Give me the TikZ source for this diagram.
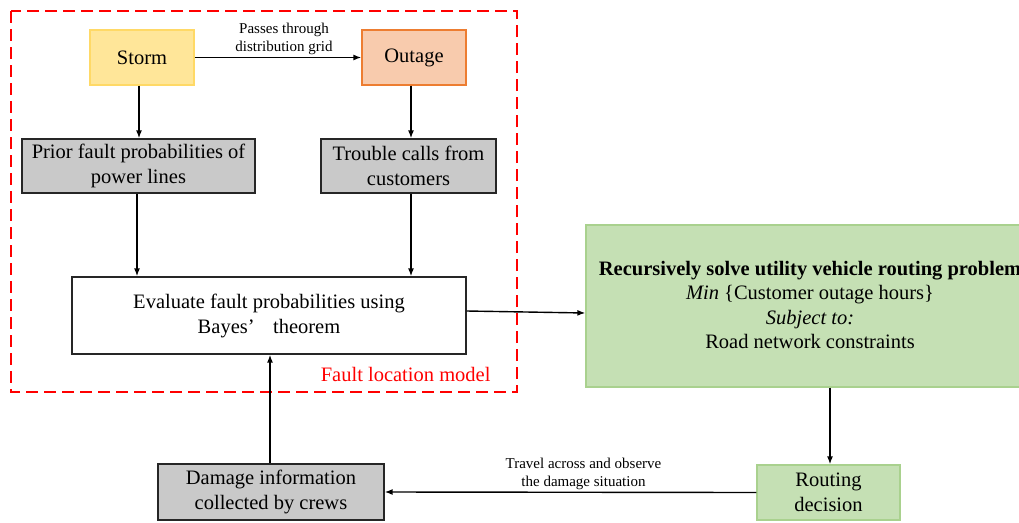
\documentclass[tikz,border=0pt]{standalone}
\usepackage{fontspec}
\setmainfont{LiberationSerif}[Extension=.ttf, UprightFont=*-Regular, BoldFont=*-Bold, ItalicFont=*-Italic, BoldItalicFont=*-BoldItalic]
\usetikzlibrary{arrows.meta}
\definecolor{stormfill}{HTML}{FFE699}
\definecolor{stormdraw}{HTML}{FFD966}
\definecolor{outfill}{HTML}{F8CBAD}
\definecolor{outdraw}{HTML}{ED7D31}
\definecolor{grayfill}{HTML}{C9C9C9}
\definecolor{grayline}{HTML}{262626}
\definecolor{greenfill}{HTML}{C5E0B4}
\definecolor{greendraw}{HTML}{A9D18E}
\definecolor{framered}{HTML}{FF0000}
\begin{document}
\begin{tikzpicture}[x=1pt,y=-1pt,
  box/.style={draw, line width=1.3pt, inner sep=0pt, align=center, font=\fontsize{20.5}{25}\selectfont},
  graybox/.style={box, fill=grayfill, draw=grayline},
  conn/.style={line width=1.4pt, -{Latex[length=8pt,width=6pt]}},
  small/.style={font=\fontsize{15}{18}\selectfont, align=center}]
\useasboundingbox (0,0) rectangle (1019,522);
% frame
\draw[framered, dashed, line width=1.6pt, dash pattern=on 12pt off 6pt] (11,11) rectangle (517,392);
% nodes
\node[box, fill=stormfill, draw=stormdraw, minimum width=104pt, minimum height=55pt] (storm) at (142,57.5) {Storm};
\node[box, fill=outfill, draw=outdraw, minimum width=104pt, minimum height=55pt] (outage) at (414,57.5) {Outage};
\node[graybox, minimum width=233pt, minimum height=54pt] (prior) at (138.5,166) {Prior fault probabilities of\\power lines};
\node[graybox, minimum width=175pt, minimum height=54pt] (trouble) at (408.5,166) {Trouble calls from\\customers};
\node[box, fill=white, draw=grayline, minimum width=394pt, minimum height=77pt] (eval) at (269,315.5) {Evaluate fault probabilities using\\Bayes’\hspace{0.9em}theorem};
\node[text=framered, font=\fontsize{20.5}{24}\selectfont, anchor=east] (flm) at (494,374) {Fault location model};
\node[box, fill=greenfill, draw=greendraw, minimum width=460pt, minimum height=162pt] (solve) at (816,306) {};
\node[font=\fontsize{20.5}{24.5}\selectfont, align=center] (solvetxt) at (810,305) {\textbf{Recursively solve utility vehicle routing problem}\\\textit{Min} \{Customer outage hours\}\\\textit{Subject to:}\\Road network constraints};
\node[box, fill=greenfill, draw=greendraw, minimum width=143pt, minimum height=55pt] (route) at (828.5,492.5) {Routing\\decision};
\node[graybox, minimum width=226pt, minimum height=56pt] (damage) at (271,492) {Damage information\\collected by crews};
% connectors
\draw[conn] (storm.east) -- node[small, above=-1pt, xshift=6pt] (lbl1) {Passes through\\distribution grid} (outage.west);
\draw[conn] (storm.south -| 139,0) -- (prior.north -| 139,0);
\draw[conn] (outage.south -| 411,0) -- (trouble.north -| 411,0);
\draw[conn] (prior.south -| 137,0) -- (eval.north -| 137,0);
\draw[conn] (trouble.south -| 411,0) -- (eval.north -| 411,0);
\draw[conn] (eval.east |- 0,311) -- (solve.west |- 0,313);
\draw[conn] (solve.south -| 830,0) -- (route.north -| 830,0);
\draw[conn] (route.west) -- node[small, above=-2pt, xshift=13pt] (lbl2) {Travel across and observe\\the damage situation} (damage.east);
\draw[conn] (damage.north -| 270,0) -- (eval.south -| 270,0);
\end{tikzpicture}
\end{document}
